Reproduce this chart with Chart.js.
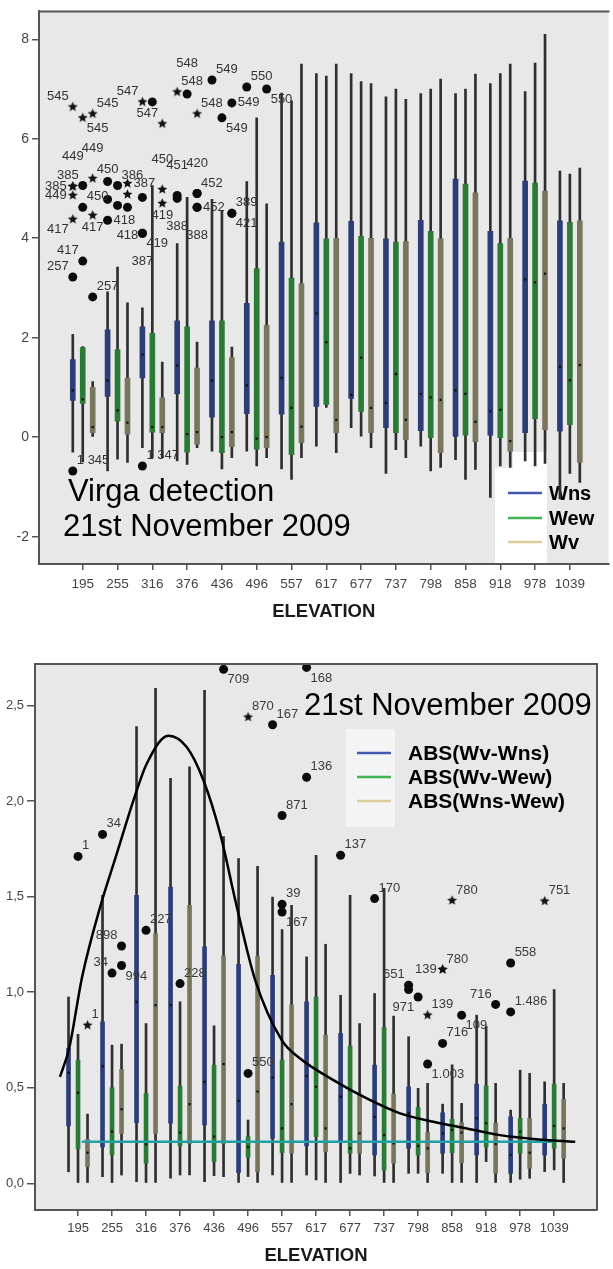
<!DOCTYPE html>
<html>
<head>
<meta charset="utf-8">
<script src="https://cdn.jsdelivr.net/npm/chart.js@4.4.1/dist/chart.umd.min.js"></script>
<style>
  html, body { margin: 0; padding: 0; background: #fff; width: 613px; height: 1269px; overflow: hidden; }
  canvas { position: absolute; left: 0; }
  #c1 { top: 0; }
  #c2 { top: 640px; }
</style>
</head>
<body>
<canvas id="c1" width="613" height="630"></canvas>
<canvas id="c2" width="613" height="629"></canvas>
<script>
// ---------- categories ----------
const elevations = ['195','255','316','376','436','496','557','617','677','737','798','858','918','978','1039'];

// ---------- upper plot: Wns / Wew / Wv per elevation ----------
const wnsLow  = [-0.30,-0.68,-0.21,-0.48,-0.28,-0.28,-0.64,-0.18, 0.19,-0.73,-0.18,-0.45,-1.21,-0.48,-1.24];
const wnsQ1   = [ 0.74, 0.82, 1.19, 0.87, 0.40, 0.47, 0.46, 0.62, 0.78, 0.19, 0.13, 0.00, 0.04, 0.09, 0.12];
const wnsMed  = [ 0.94, 1.14, 1.66, 1.44, 1.14, 1.04, 1.19, 2.49, 0.85, 0.69, 0.87, 0.94, 0.52, 3.17, 1.42];
const wnsQ3   = [ 1.56, 2.16, 2.22, 2.34, 2.34, 2.69, 3.92, 4.31, 4.34, 3.99, 4.36, 5.19, 4.14, 5.15, 4.35];
const wnsHigh = [ 2.07, 2.92, 2.60, 3.89, 4.78, 5.14, 6.92, 7.31, 7.31, 6.84, 6.91, 6.91, 7.11, 6.95, 5.35];

const wewLow  = [-0.50,-0.44,-0.41,-0.55,-0.64,-0.58,-0.85, 0.60, 0.02,-0.25,-0.68,-0.85,-0.58,-0.58,-0.73];
const wewQ1   = [ 0.68, 0.32, 0.10,-0.30,-0.31,-0.24,-0.35, 0.66, 0.52, 0.09,-0.01, 0.04,-0.01, 0.37, 0.25];
const wewMed  = [ 0.76, 0.54, 0.20, 0.06, 0.00,-0.03, 0.59, 1.91, 1.60, 1.27, 0.80, 0.87, 0.55, 3.11, 1.14];
const wewQ3   = [ 1.80, 1.76, 2.09, 2.22, 2.34, 3.39, 3.20, 3.99, 4.04, 3.92, 4.14, 5.09, 3.89, 5.11, 4.32];
const wewHigh = [ 1.82, 3.42, 5.06, 4.82, 4.56, 6.42, 6.76, 7.26, 7.15, 7.00, 7.00, 7.00, 7.31, 7.52, 5.29];

const wvLow   = [ 0.00,-0.51,-0.41,-0.21,-0.41,-0.41,-0.41,-0.31,-0.21,-0.41,-0.61,-0.65,-0.61,-0.53,-0.91];
const wvQ1    = [ 0.09, 0.06, 0.09,-0.14,-0.19,-0.21,-0.11, 0.09, 0.09,-0.05,-0.31,-0.09,-0.28, 0.15,-0.51];
const wvMed   = [ 0.20, 0.29, 0.20, 0.10, 0.10, 0.00, 0.21, 0.35, 0.59, 0.35, 0.75, 0.31,-0.08, 3.29, 1.45];
const wvQ3    = [ 1.00, 1.19, 0.79, 1.39, 1.60, 2.25, 3.09, 4.00, 4.00, 3.93, 3.99, 4.91, 4.00, 4.95, 4.35];
const wvHigh  = [ 1.12, 2.70, 1.51, 1.91, 1.81, 4.69, 7.50, 7.50, 7.11, 6.79, 7.20, 7.30, 7.50, 8.10, 5.41];

// outliers of the upper plot: elevation index, series (0 Wns, 1 Wew, 2 Wv), value, marker, case label
const wOutGroup  = [0,0,0,0,0,0,0,0,0,0,0,0,0,0,0,
                    1,1,1,1,1,1,1,1,
                    2,2,2,2,2,2,2,2,2,
                    3,3,3,3,3,3,3,3,3,
                    4,4,4,4,4,
                    5,5];
const wOutSeries = [0,1,2,0,0,0,0,0,1,1,1,2,2,2,0,
                    0,0,0,1,1,2,2,2,
                    0,1,2,0,0,0,0,2,2,
                    0,1,2,0,0,2,2,2,2,
                    0,1,2,2,2,
                    0,2];
const wOutValue  = [6.64,6.42,6.50,5.04,5.04,4.86,4.38,3.22,5.06,4.62,3.54,5.20,4.46,2.82,-0.68,
                    5.14,4.78,4.36,5.06,4.66,4.62,5.10,4.88,
                    6.74,6.74,6.30,4.82,4.10,4.10,-0.58,4.98,4.70,
                    6.94,6.90,6.50,4.86,4.80,4.90,4.90,4.62,4.62,
                    7.18,6.42,6.72,4.50,4.50,
                    7.04,7.00];
const wOutShape  = ['*','*','*','*','*','*','*','o','o','o','o','*','*','o','o',
                    'o','o','o','o','o','o','*','*',
                    '*','o','*','o','o','o','o','*','*',
                    '*','o','*','o','o','o','o','o','o',
                    'o','o','o','o','o',
                    'o','o'];
const wOutLabel  = ['545','545','545','385','449','449','417','257','385','450','417','449','417','257','1 345',
                    '450','','418','386','','418','387','',
                    '547','','547','','419','387','1 347','450','419',
                    '548','548','548','451','388','420','452','452','388',
                    '549','549','549','421','389',
                    '550','550'];
// where each case label sits relative to its marker
const wOutSide   = ['ul','dr','ur','l','uu','l','dl','ul','ul','ur','ul','uu','d','ur','ur',
                    'u','r','r','ur','r','dd','r','r',
                    'ul','r','ul','r','dr','dd','ur','uu','d',
                    'ur','uu','ur','uu','dd','uu','ur','r','dd',
                    'ur','dr','r','dr','ur',
                    'ur','dr'];

// ---------- lower plot: absolute differences per elevation ----------
const dVnsLow  = [0.060,0.035,0.008,0.026,0.008,0.000,0.043,0.043,0.000,0.038,0.052,0.052,0.000,0.000,0.061];
const dVnsQ1   = [0.300,0.190,0.317,0.314,0.305,0.056,0.235,0.195,0.212,0.148,0.183,0.157,0.148,0.052,0.148];
const dVnsMed  = [0.578,0.613,0.950,0.932,0.531,0.432,0.554,0.561,0.453,0.348,0.366,0.261,0.340,0.148,0.226];
const dVnsQ3   = [0.707,0.845,1.507,1.550,1.237,1.146,1.089,0.950,0.784,0.618,0.505,0.369,0.519,0.348,0.414];
const dVnsHigh = [0.975,1.507,2.390,2.120,2.580,1.699,1.498,1.185,0.984,0.993,0.767,0.414,0.880,0.383,0.531];

const dVewLow  = [0.000,0.000,0.000,0.043,0.040,0.035,0.000,0.017,0.052,0.000,0.052,0.000,0.113,0.021,0.070];
const dVewQ1   = [0.180,0.148,0.105,0.195,0.113,0.136,0.160,0.244,0.157,0.070,0.148,0.160,0.190,0.157,0.183];
const dVewMed  = [0.474,0.270,0.204,0.265,0.244,0.190,0.287,0.505,0.183,0.252,0.195,0.279,0.314,0.270,0.300];
const dVewQ3   = [0.645,0.500,0.470,0.509,0.618,0.244,0.645,0.975,0.718,0.815,0.397,0.335,0.510,0.340,0.519];
const dVewHigh = [0.780,0.723,0.836,0.950,0.824,0.331,1.328,1.717,1.507,1.544,0.497,0.620,0.822,0.592,1.014];

const dNseLow  = [0.000,0.043,0.000,0.043,0.035,0.000,0.000,0.000,0.043,0.000,0.000,0.000,0.000,0.026,0.000];
const dNseQ1   = [0.087,0.261,0.261,0.209,0.209,0.060,0.157,0.165,0.157,0.106,0.056,0.108,0.052,0.078,0.131];
const dNseMed  = [0.160,0.387,0.932,0.414,0.624,0.480,0.414,0.287,0.261,0.209,0.183,0.265,0.205,0.160,0.287];
const dNseQ3   = [0.230,0.596,1.307,1.455,1.190,1.188,0.932,0.775,0.467,0.467,0.265,0.317,0.314,0.340,0.439];
const dNseHigh = [0.362,0.728,2.590,2.180,1.815,1.659,1.455,1.251,0.836,0.875,0.523,0.418,0.523,0.575,0.523];

// outliers of the lower plot
const dOutGroup  = [0,1,0,1,1,1,2,3,4,5,6,7,7,6,6,6,5,8,9,10,10,10,10,10,11,11,11,11,11,12,13,13,14];
const dOutSeries = [1,0,2,1,2,2,1,1,2,1,0,0,0,1,1,1,1,0,0,0,0,1,2,2,0,0,0,1,2,2,0,0,0];
const dOutValue  = [1.711,1.826,0.827,1.100,1.140,1.242,1.324,1.045,2.690,2.440,2.400,2.700,2.125,1.925,1.460,1.420,0.575,
                    1.717,1.490,1.037,1.014,0.975,0.880,0.624,1.119,1.119,0.732,1.480,0.880,0.936,1.153,0.897,1.477];
const dOutShape  = ['o','o','*','o','o','o','o','o','o','*','o','o','o','o','o','o','o',
                    'o','o','o','o','o','*','o','*','*','o','*','o','o','o','o','*'];
const dOutLabel  = ['1','34','1','34','994','898','227','228','709','870','167','168','136','871','39','167','550',
                    '137','170','651','','971','139','1.003','780','139','716','780','109','716','558','1.486','751'];
const dOutSide   = ['ur','ur','ur','ul','dr','ul','ur','ur','dr','ur','ur','dr','ur','ur','ur','dr','ur',
                    'ur','ur','ul','r','dl','ur','dr','ur','l','ur','ur','dr','ul','ur','ur','ur'];

// fitted curve and reference level drawn over the lower plot
const fitX = [-0.53,-0.26, 0.12, 0.65, 1.14, 1.63, 2.02, 2.66, 3.20, 3.69, 4.18, 4.67, 5.21, 5.99, 6.53, 7.51, 8.49, 9.47,10.45,11.43,12.41,13.39,14.62];
const fitY = [0.557,0.707,1.080,1.446,1.725,2.004,2.196,2.343,2.282,2.108,1.830,1.446,1.063,0.749,0.653,0.540,0.444,0.366,0.322,0.287,0.252,0.232,0.217];
const refX = [0.11, 13.97];
const refY = [0.217, 0.217];

// ---------- drawing helpers ----------
Chart.defaults.font.family = "'Liberation Sans', Arial, Helvetica, sans-serif";
const WHISKER = '#2f2f2f';
const AXIS = '#555555';
const PANEL = '#e8e8e8';
const CAPTION_FONT = '31px "Liberation Sans", Arial, sans-serif';

function makeStar(r) {
  const c = document.createElement('canvas');
  const s = Math.ceil(r * 2 + 2);
  c.width = s; c.height = s;
  const g = c.getContext('2d');
  g.translate(s / 2, s / 2);
  g.beginPath();
  for (let k = 0; k < 10; k++) {
    const rad = k % 2 ? r * 0.45 : r;
    const a = -Math.PI / 2 + k * Math.PI / 5;
    g.lineTo(rad * Math.cos(a), rad * Math.sin(a));
  }
  g.closePath();
  g.fillStyle = '#111';
  g.fill();
  return c;
}
const STAR = makeStar(5.2);

function boxplotDatasets(series, spread, boxWidth) {
  const out = [];
  series.forEach((s, k) => {
    const dx = (k - 1) * spread;
    out.push({ type: 'bar', label: s.name + ' range', grouped: false, order: 6,
      data: s.lo.map((v, i) => ({ x: i + dx, y: [v, s.hi[i]] })),
      backgroundColor: WHISKER, barThickness: 2 });
    out.push({ type: 'bar', label: s.name, grouped: false, order: 5,
      data: s.q1.map((v, i) => ({ x: i + dx, y: [v, s.q3[i]] })),
      backgroundColor: s.color, barThickness: boxWidth });
    out.push({ type: 'line', label: s.name + ' median', showLine: false, order: 4,
      data: s.med.map((v, i) => ({ x: i + dx, y: v })),
      pointStyle: 'rect', pointRadius: 1.6, pointBackgroundColor: '#111', pointBorderWidth: 0 });
  });
  return out;
}

function outlierDataset(groups, series, values, shapes, labels, sides, spread) {
  return { type: 'line', label: 'outliers', showLine: false, order: 1,
    data: groups.map((g, j) => ({ x: g + (series[j] - 1) * spread, y: values[j] })),
    pointStyle: ctx => (ctx.dataIndex !== undefined && shapes[ctx.dataIndex] === '*') ? STAR : 'circle',
    pointRadius: 4.5, pointBackgroundColor: '#0b0b0b', pointBorderWidth: 0,
    outLabels: labels, outSides: sides };
}

const SIDES = {
  ur: { dx: 4, dy: -4, a: 'left', b: 'bottom' },
  ul: { dx: -4, dy: -4, a: 'right', b: 'bottom' },
  r:  { dx: 6, dy: 0, a: 'left', b: 'middle' },
  l:  { dx: -6, dy: 0, a: 'right', b: 'middle' },
  dr: { dx: 4, dy: 4, a: 'left', b: 'top' },
  dl: { dx: -4, dy: 4, a: 'right', b: 'top' },
  u:  { dx: 0, dy: -6, a: 'center', b: 'bottom' },
  uu: { dx: 0, dy: -24, a: 'center', b: 'bottom' },
  d:  { dx: 0, dy: 6, a: 'center', b: 'top' },
  dd: { dx: 0, dy: 22, a: 'center', b: 'top' }
};

const outlierLabels = {
  id: 'outlierLabels',
  afterDatasetsDraw(chart, args, opts) {
    const ctx = chart.ctx;
    chart.data.datasets.forEach((ds, i) => {
      if (!ds.outLabels) return;
      const meta = chart.getDatasetMeta(i);
      ctx.save();
      ctx.font = opts.font;
      ctx.fillStyle = opts.color;
      meta.data.forEach((pt, j) => {
        const t = ds.outLabels[j];
        if (!t) return;
        const p = SIDES[ds.outSides[j]];
        ctx.textAlign = p.a;
        ctx.textBaseline = p.b;
        ctx.fillText(t, pt.x + p.dx, pt.y + p.dy);
      });
      ctx.restore();
    });
  }
};

function xAxis(min, max, height, tickPad, titlePad, fontSize) {
  return {
    type: 'linear', min, max, offset: false,
    afterBuildTicks: s => { s.ticks = elevations.map((_, i) => ({ value: i })); },
    afterFit: s => { s.height = height; },
    ticks: { callback: v => elevations[v], autoSkip: false, maxRotation: 0, padding: tickPad,
             color: '#444', font: { size: fontSize } },
    grid: { display: true, offset: false, drawOnChartArea: false, drawTicks: true, tickLength: 6, color: AXIS, lineWidth: 1.5 },
    border: { display: true, color: AXIS, width: 2 },
    title: { display: true, text: 'ELEVATION', color: '#1a1a1a', font: { size: 18.5, weight: 'bold' },
             padding: { top: 0, bottom: titlePad } }
  };
}

function yAxis(min, max, tickValues, fmt, width, tickLen, fontSize) {
  return {
    type: 'linear', min, max,
    afterBuildTicks: s => { s.ticks = tickValues.map(v => ({ value: v })); },
    afterFit: s => { s.width = width; },
    ticks: { callback: fmt, padding: 3, color: '#444', font: { size: fontSize } },
    grid: { display: true, drawOnChartArea: false, drawTicks: true, tickLength: tickLen, color: AXIS, lineWidth: 1.5 },
    border: { display: true, color: AXIS, width: 2 }
  };
}

function legendRows(ctx, x0, x1, xText, rows, font) {
  rows.forEach(r => {
    ctx.strokeStyle = r.color;
    ctx.lineWidth = 2.5;
    ctx.beginPath(); ctx.moveTo(x0, r.y); ctx.lineTo(x1, r.y); ctx.stroke();
    ctx.fillStyle = '#000';
    ctx.font = font;
    ctx.textAlign = 'left';
    ctx.textBaseline = 'middle';
    ctx.fillText(r.text, xText, r.y + 1);
  });
}

// ---------- upper chart ----------
const spreadW = 10 / 35;
const wSeries = [
  { name: 'Wns', lo: wnsLow, q1: wnsQ1, med: wnsMed, q3: wnsQ3, hi: wnsHigh, color: '#2d3d78' },
  { name: 'Wew', lo: wewLow, q1: wewQ1, med: wewMed, q3: wewQ3, hi: wewHigh, color: '#2b7a36' },
  { name: 'Wv',  lo: wvLow,  q1: wvQ1,  med: wvMed,  q3: wvQ3,  hi: wvHigh,  color: '#7a765e' }
];

const upperDecor = {
  id: 'upperDecor',
  beforeDraw(chart) {
    const { ctx, chartArea: a } = chart;
    ctx.save();
    ctx.fillStyle = PANEL;
    ctx.fillRect(a.left, a.top, a.right - a.left, a.bottom - a.top);
    ctx.restore();
  },
  beforeDatasetsDraw(chart) {
    const ctx = chart.ctx;
    ctx.save();
    // legend panel
    ctx.fillStyle = '#ffffff';
    ctx.fillRect(495, 468, 52, 95);
    ctx.fillRect(513, 452, 34, 17);
    legendRows(ctx, 508, 542, 549, [
      { text: 'Wns', color: '#4458b0', y: 493 },
      { text: 'Wew', color: '#3fb450', y: 518 },
      { text: 'Wv',  color: '#d9cd9a', y: 542 }
    ], 'bold 20px "Liberation Sans", Arial, sans-serif');
    // caption
    ctx.fillStyle = '#000';
    ctx.font = CAPTION_FONT;
    ctx.textAlign = 'left';
    ctx.textBaseline = 'alphabetic';
    ctx.fillText('Virga detection', 68, 501);
    ctx.fillText('21st November 2009', 63, 536);
    ctx.restore();
  },
  afterDraw(chart) {
    const { ctx, chartArea: a } = chart;
    ctx.save();
    ctx.strokeStyle = AXIS;
    ctx.lineWidth = 2;
    ctx.beginPath(); ctx.moveTo(a.left, a.top); ctx.lineTo(a.right + 1, a.top); ctx.stroke();
    ctx.restore();
  }
};

new Chart(document.getElementById('c1'), {
  type: 'bar',
  data: {
    datasets: [
      ...boxplotDatasets(wSeries, spreadW, 5),
      outlierDataset(wOutGroup, wOutSeries, wOutValue, wOutShape, wOutLabel, wOutSide, spreadW)
    ]
  },
  options: {
    responsive: false, animation: false, devicePixelRatio: 1, events: [],
    layout: { padding: { top: 8, right: 1, left: 0, bottom: 0 } },
    plugins: {
      legend: { display: false }, tooltip: { enabled: false },
      outlierLabels: { font: '13px "Liberation Sans", Arial, sans-serif', color: '#333' }
    },
    scales: {
      x: xAxis(-1.257, 15.11, 66, 6, 7, 13.5),
      y: yAxis(-2.55, 8.56, [-2, 0, 2, 4, 6, 8], v => String(v), 39, 7, 14)
    }
  },
  plugins: [upperDecor, outlierLabels]
});

// ---------- lower chart ----------
const spreadD = 9.5 / 34;
const dSeries = [
  { name: 'ABS(Wv-Wns)',  lo: dVnsLow, q1: dVnsQ1, med: dVnsMed, q3: dVnsQ3, hi: dVnsHigh, color: '#2d3d78' },
  { name: 'ABS(Wv-Wew)',  lo: dVewLow, q1: dVewQ1, med: dVewMed, q3: dVewQ3, hi: dVewHigh, color: '#2b7a36' },
  { name: 'ABS(Wns-Wew)', lo: dNseLow, q1: dNseQ1, med: dNseMed, q3: dNseQ3, hi: dNseHigh, color: '#7a765e' }
];

const lowerDecor = {
  id: 'lowerDecor',
  beforeDraw(chart) {
    const { ctx, chartArea: a } = chart;
    ctx.save();
    ctx.fillStyle = PANEL;
    ctx.fillRect(a.left, a.top, a.right - a.left, a.bottom - a.top);
    ctx.restore();
  },
  beforeDatasetsDraw(chart) {
    const ctx = chart.ctx;
    ctx.save();
    ctx.fillStyle = '#000';
    ctx.font = CAPTION_FONT;
    ctx.textAlign = 'left';
    ctx.textBaseline = 'alphabetic';
    ctx.fillText('21st November 2009', 304, 75);
    ctx.fillStyle = '#f4f4f4';
    ctx.fillRect(346, 89, 49, 98);
    legendRows(ctx, 357, 391, 408, [
      { text: 'ABS(Wv-Wns)',  color: '#4458b0', y: 113 },
      { text: 'ABS(Wv-Wew)',  color: '#3fb450', y: 137 },
      { text: 'ABS(Wns-Wew)', color: '#d9cd9a', y: 161 }
    ], 'bold 21px "Liberation Sans", Arial, sans-serif');
    ctx.restore();
  },
  afterDraw(chart) {
    const { ctx, chartArea: a } = chart;
    ctx.save();
    ctx.strokeStyle = AXIS;
    ctx.lineWidth = 2;
    ctx.beginPath();
    ctx.moveTo(a.left, a.top); ctx.lineTo(a.right, a.top); ctx.lineTo(a.right, a.bottom);
    ctx.stroke();
    ctx.restore();
  }
};

new Chart(document.getElementById('c2'), {
  type: 'bar',
  data: {
    datasets: [
      ...boxplotDatasets(dSeries, spreadD, 4),
      { type: 'line', label: 'reference', order: 3, data: refX.map((x, i) => ({ x, y: refY[i] })),
        borderColor: '#1fa0a4', borderWidth: 2.5, pointRadius: 0, fill: false },
      { type: 'line', label: 'fit', order: 2, data: fitX.map((x, i) => ({ x, y: fitY[i] })),
        borderColor: '#000', borderWidth: 2.5, pointRadius: 0, fill: false, cubicInterpolationMode: 'monotone' },
      outlierDataset(dOutGroup, dOutSeries, dOutValue, dOutShape, dOutLabel, dOutSide, spreadD)
    ]
  },
  options: {
    responsive: false, animation: false, devicePixelRatio: 1, events: [],
    layout: { padding: { top: 24, right: 16, left: 0, bottom: 0 } },
    plugins: {
      legend: { display: false }, tooltip: { enabled: false },
      outlierLabels: { font: '13px "Liberation Sans", Arial, sans-serif', color: '#3a3a3a' }
    },
    scales: {
      x: xAxis(-1.265, 15.26, 59, 5, 2, 13),
      y: yAxis(-0.14, 2.718, [0, 0.5, 1, 1.5, 2, 2.5], v => v.toFixed(1).replace('.', ','), 35, 8, 13)
    }
  },
  plugins: [lowerDecor, outlierLabels]
});
</script>
</body>
</html>
